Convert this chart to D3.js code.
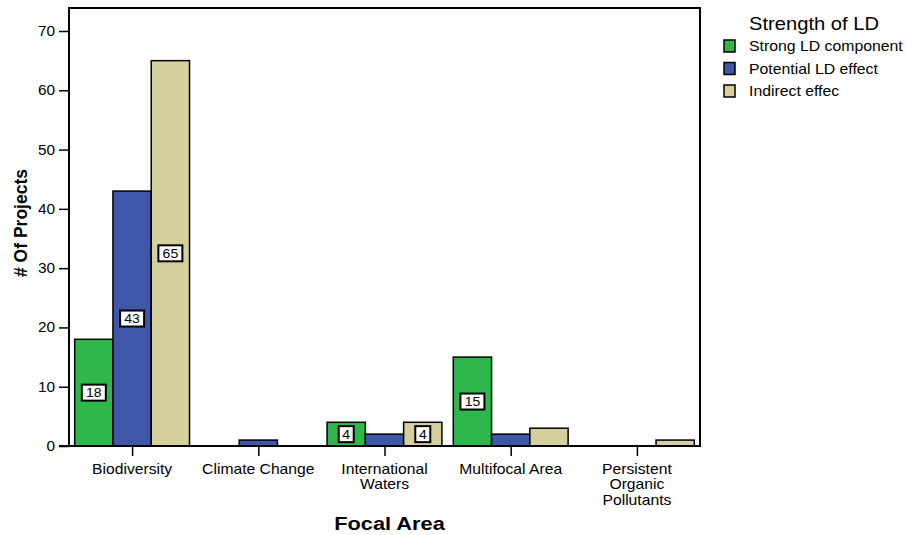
<!DOCTYPE html>
<html><head><meta charset="utf-8">
<script src="https://cdn.jsdelivr.net/npm/d3@7"></script>
<style>body{margin:0;background:#fff;font-family:"Liberation Sans",Arial,sans-serif;}</style>
</head><body><svg id="c" width="906" height="535"></svg>
<script>
const categories = [["Biodiversity"],["Climate Change"],["International","Waters"],["Multifocal Area"],["Persistent","Organic","Pollutants"]];
const seriesNames = ["Strong LD component","Potential LD effect","Indirect effec"];
const strongLD = [18,0,4,15,0];
const potentialLD = [43,1,2,2,0];
const indirectLD = [65,0,4,3,1];
const yTicks = [0,10,20,30,40,50,60,70];
const colors = ["#2eb84b","#3e57a8","#d4cf9c"];

const svg = d3.select("#c");
const L=69, R=700, T=8, B=446;
const series=[strongLD,potentialLD,indirectLD];
const x = d3.scaleBand().domain(d3.range(categories.length)).range([L,R]).paddingInner(0.09).paddingOuter(0.045);
const xi = d3.scaleBand().domain(d3.range(3)).range([0,x.bandwidth()]);
const y = d3.scaleLinear().domain([0,70]).range([B,31]);

function stext(px, py, lines, size, sx, anchor, weight, lh){
  const t = svg.append("text").attr("transform",`translate(${px},${py}) scale(${sx},1)`)
    .attr("text-anchor",anchor||"start").attr("font-size",size).attr("fill","#000")
    .attr("font-family","Liberation Sans, Arial, sans-serif");
  if(weight) t.attr("font-weight",weight);
  [].concat(lines).forEach((s,j)=>t.append("tspan").attr("x",0).attr("dy",j?(lh||16):0).text(s));
  return t;
}

// frame
svg.append("rect").attr("x",L).attr("y",T).attr("width",R-L).attr("height",B-T).attr("fill","none").attr("stroke","#000").attr("stroke-width",2);

// y axis
const ya = svg.append("g").attr("transform",`translate(${L},0)`).call(d3.axisLeft(y).tickValues(yTicks).tickSize(10).tickFormat(""));
ya.select(".domain").remove();
ya.selectAll("line").attr("stroke","#000").attr("stroke-width",1.5);
yTicks.forEach(v=>stext(L-14, y(v)+5, String(v), 14, 1.1, "end"));

// x axis ticks
const xc = d3.scalePoint().domain(d3.range(categories.length)).range([x(0)+x.bandwidth()/2, x(4)+x.bandwidth()/2]);
const xa = svg.append("g").attr("transform",`translate(0,${B})`).call(d3.axisBottom(xc).tickSize(10).tickFormat(""));
xa.select(".domain").remove();
xa.selectAll("line").attr("stroke","#000").attr("stroke-width",1.5);
categories.forEach((lines,i)=>stext(xc(i), 474, lines, 14, 1.12, "middle", null, 15.5));

// bars
series.forEach((vals,si)=>{
  vals.forEach((v,ci)=>{
    if(v<=0) return;
    svg.append("rect").attr("x",x(ci)+xi(si)).attr("y",y(v)).attr("width",xi.bandwidth()).attr("height",y(0)-y(v))
      .attr("fill",colors[si]).attr("stroke","#000").attr("stroke-width",1.5);
  });
});
// labels
series.forEach((vals,si)=>{
  vals.forEach((v,ci)=>{
    if(v<4) return;
    const cx = x(ci)+xi(si)+xi.bandwidth()/2, cy=y(v/2);
    const w = String(v).length>1?24:15;
    svg.append("rect").attr("x",cx-w/2).attr("y",cy-8).attr("width",w).attr("height",16).attr("fill","#fff").attr("stroke","#000").attr("stroke-width",2);
    stext(cx, cy+4.5, String(v), 12.5, 1.12, "middle");
  });
});
// bottom axis line over bars
svg.append("line").attr("x1",L-10).attr("x2",R).attr("y1",B).attr("y2",B).attr("stroke","#000").attr("stroke-width",2);

// axis titles
svg.append("text").attr("transform",`translate(27,223) rotate(-90)`).attr("text-anchor","middle").attr("font-weight","bold").attr("font-size",17.5).text("# Of Projects");
stext((L+R)/2+5, 530, "Focal Area", 18, 1.21, "middle", "bold");

// legend
stext(814, 30, "Strength of LD", 18, 1.12, "middle");
seriesNames.forEach((n,i)=>{
  const yy = 46+i*22.5;
  svg.append("rect").attr("x",724).attr("y",yy-6).attr("width",11).attr("height",12).attr("fill",colors[i]).attr("stroke","#000").attr("stroke-width",1.5);
  stext(749, yy+5, n, 14, 1.13, "start");
});
</script></body></html>
